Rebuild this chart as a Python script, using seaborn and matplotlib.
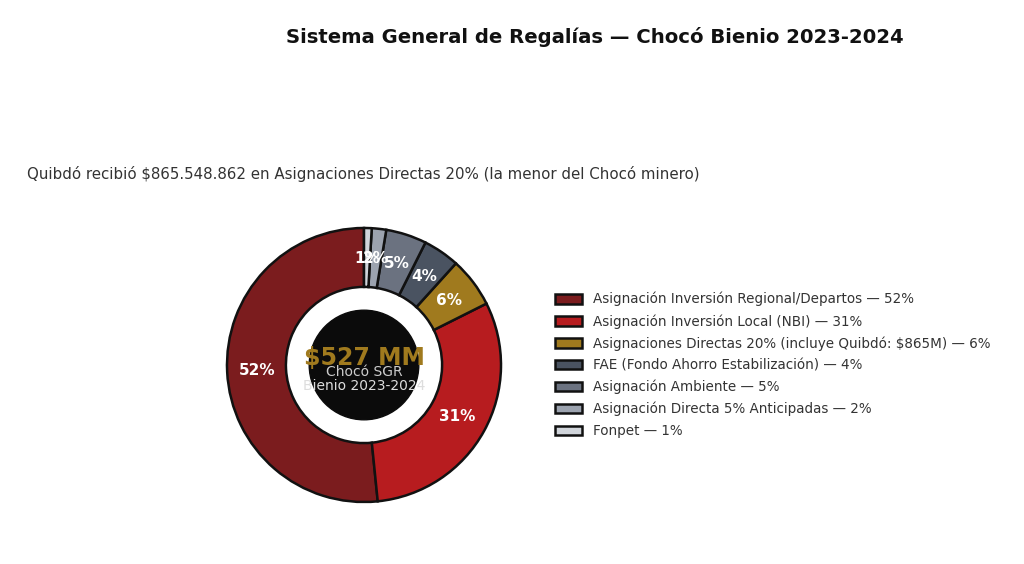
import matplotlib
matplotlib.use("Agg")
import matplotlib.pyplot as plt
import seaborn as sns

sns.set_theme(style="white")
plt.rcParams['font.family'] = ['DejaVu Sans']

categories = [
    "Asignación Inversión Regional/Departos",
    "Asignación Inversión Local (NBI)",
    "Asignaciones Directas 20% (incluye Quibdó: $865M)",
    "FAE (Fondo Ahorro Estabilización)",
    "Asignación Ambiente",
    "Asignación Directa 5% Anticipadas",
    "Fonpet",
]
shares = [51.6, 30.8, 5.9, 4.3, 4.8, 1.7, 0.9]
pct_labels = ["52%", "31%", "6%", "4%", "5%", "2%", "1%"]
colors = ["#7b1c1e", "#b71c1f", "#a07a1e", "#4a5361", "#6b7280", "#9ca3af", "#d1d5db"]

title = "Sistema General de Regalías — Chocó Bienio 2023-2024"
subtitle = "Quibdó recibió $865.548.862 en Asignaciones Directas 20% (la menor del Chocó minero)"
center_main = "$527 MM"
center_sub1 = "Chocó SGR"
center_sub2 = "Bienio 2023-2024"

fig = plt.figure(figsize=(10.24, 5.64), dpi=100)
W, H = 1024, 564
R = 137
lim = 1.03
size = 2 * R * lim
cx, cy = 364, 365
ax = fig.add_axes([(cx - size / 2) / W, (H - cy - size / 2) / H, size / W, size / H])

wedges, texts, autotexts = ax.pie(
    shares, colors=colors, startangle=90, counterclock=True,
    labels=None, autopct=lambda p: "", pctdistance=0.78,
    wedgeprops=dict(width=0.43, edgecolor="#111111", linewidth=1.8),
)
for at, lab in zip(autotexts, pct_labels):
    at.set_text(lab)
    at.set_color("white")
    at.set_fontweight("bold")
    at.set_fontsize(11)

circle = plt.Circle((0, 0), 0.40, color="#0b0b0b", zorder=3)
ax.add_patch(circle)
ax.text(0, 0.05, center_main, ha="center", va="center", color="#a07a1e",
        fontsize=17, fontweight="bold", zorder=4)
ax.text(0, -0.05, center_sub1, ha="center", va="center", color="#cccccc",
        fontsize=10, zorder=4)
ax.text(0, -0.15, center_sub2, ha="center", va="center", color="#dddddd",
        fontsize=10, zorder=4)
ax.set_xlim(-lim, lim)
ax.set_ylim(-lim, lim)
ax.set_aspect("equal")
ax.axis("off")

fig.text(595 / W, 1 - 37 / H, title, ha="center", va="center",
         fontsize=14.1, fontweight="bold", color="#111111")
fig.text(27 / W, 1 - 174 / H, subtitle, ha="left", va="center",
         fontsize=10.8, color="#333333")

leg_labels = [f"{c} — {p}" for c, p in zip(categories, pct_labels)]
leg = fig.legend(wedges, leg_labels, loc="center left",
                 bbox_to_anchor=(543 / W, 1 - 365 / H), frameon=False,
                 fontsize=9.75, labelcolor="#333333", handlelength=2.0,
                 labelspacing=0.56)

fig.savefig("out.png", dpi=100)
